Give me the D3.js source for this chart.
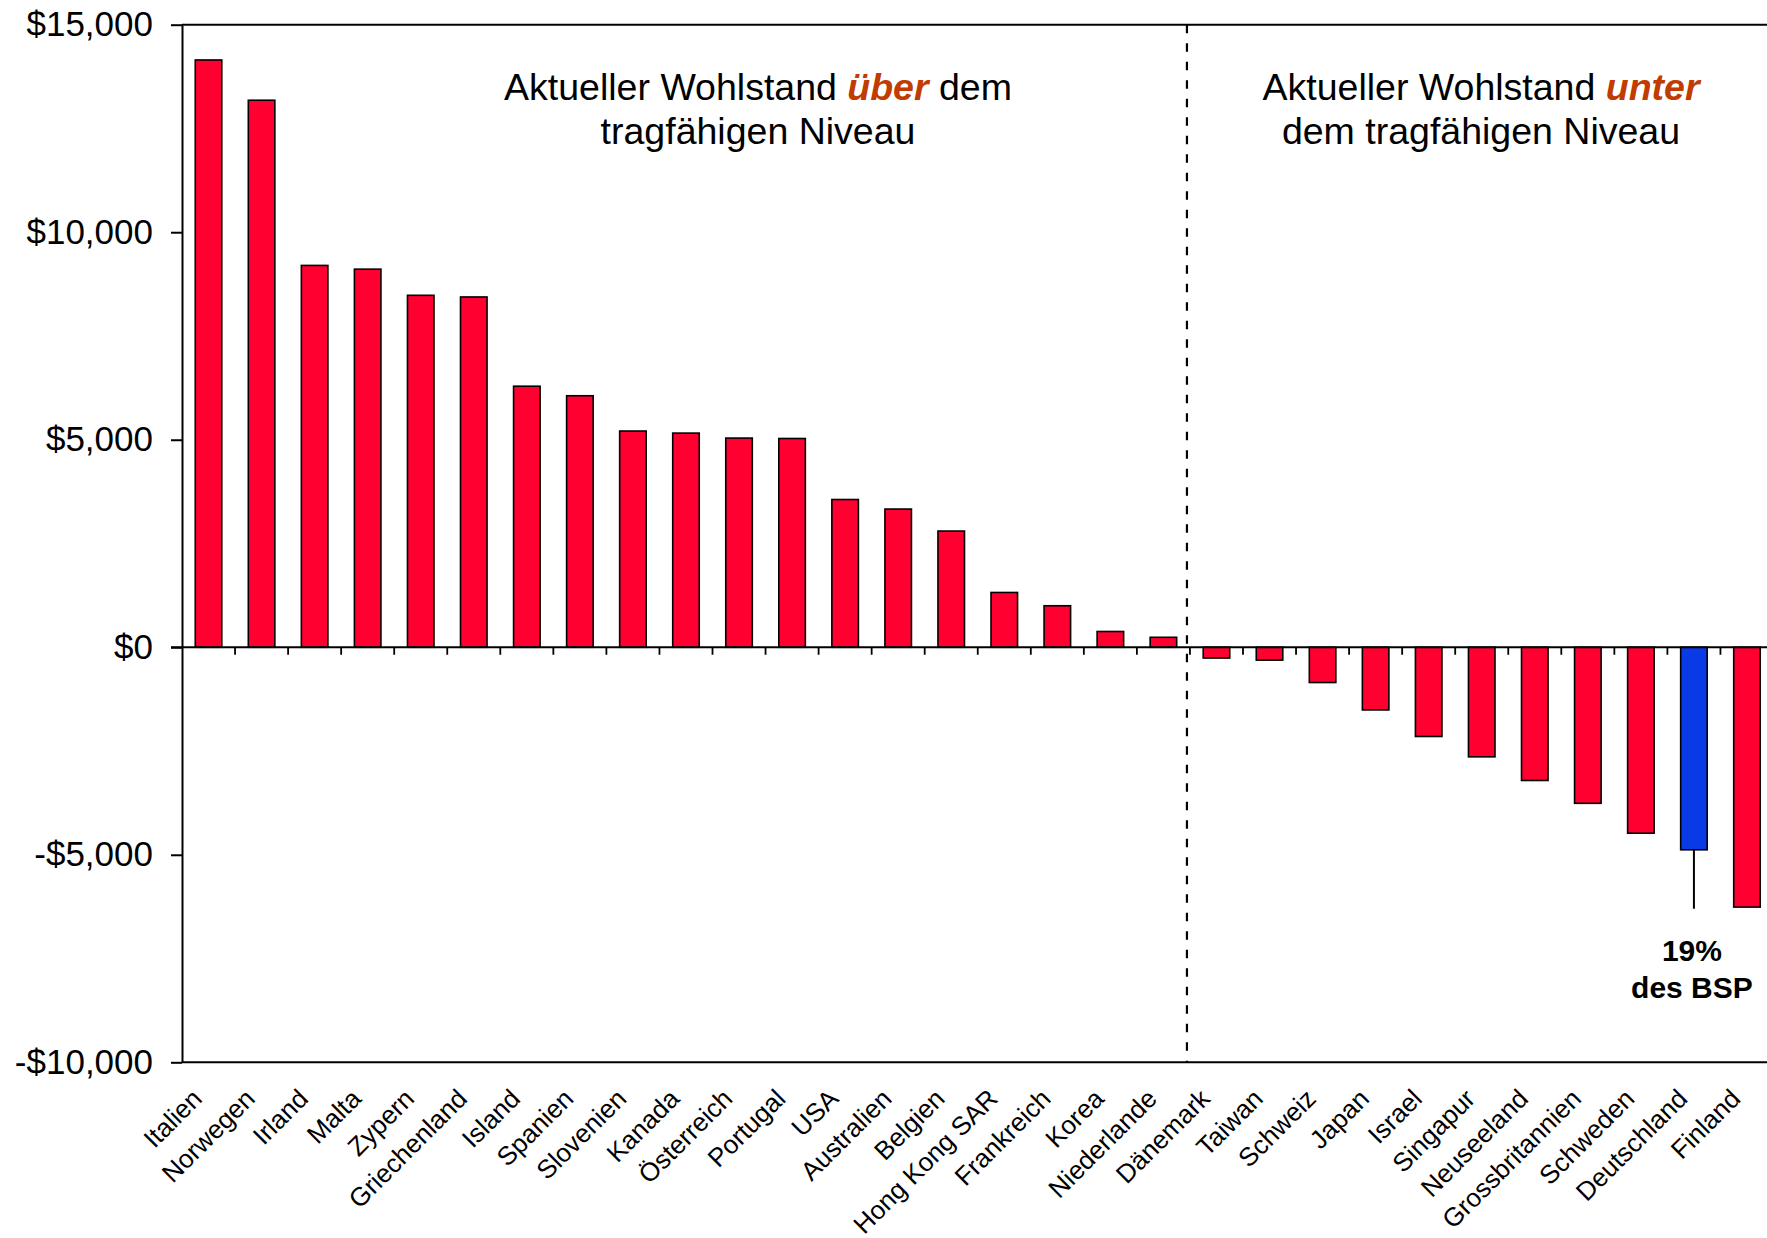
<!DOCTYPE html>
<html>
<head>
<meta charset="utf-8">
<script src="https://cdn.jsdelivr.net/npm/d3@7"></script>
<style>
  html, body { margin: 0; padding: 0; background: #fff; }
  svg { display: block; }
  text { font-family: "Liberation Sans", Arial, Helvetica, sans-serif; }
</style>
</head>
<body>
<svg id="chart" width="1767" height="1238"></svg>
<script>
// ---- data ----
const countries = ["Italien","Norwegen","Irland","Malta","Zypern","Griechenland","Island","Spanien","Slovenien","Kanada","Österreich","Portugal","USA","Australien","Belgien","Hong Kong SAR","Frankreich","Korea","Niederlande","Dänemark","Taiwan","Schweiz","Japan","Israel","Singapur","Neuseeland","Grossbritannien","Schweden","Deutschland","Finland"];
const values = [14150,13180,9200,9110,8480,8440,6290,6060,5210,5160,5040,5030,3560,3330,2800,1320,1000,380,240,-260,-310,-850,-1510,-2150,-2640,-3210,-3760,-4480,-4880,-6260];
const highlighted = ["Deutschland"];
const yTicks = [15000,10000,5000,0,-5000,-10000];
const yDomain = [-10000, 15000];
const dividerAfter = "Niederlande";
const annotationCountry = "Deutschland";
const annotationEnd = -6300;
const annotationLines = ["19%", "des BSP"];
const leftTitle = [["Aktueller Wohlstand ", false], ["über", true], [" dem", false]];
const leftTitle2 = "tragfähigen Niveau";
const rightTitle = [["Aktueller Wohlstand ", false], ["unter", true]];
const rightTitle2 = "dem tragfähigen Niveau";

// ---- layout ----
const svg = d3.select("#chart");
const plotLeft = 182, step = 53.05;
const plotRight = plotLeft + step * countries.length;
const plotTop = 24.7, plotBottom = 1062.3;

const x = d3.scaleBand().domain(countries).range([plotLeft, plotRight]).paddingInner(0.5).paddingOuter(0.25);
const y = d3.scaleLinear().domain(yDomain).range([plotBottom, plotTop]);

const RED = "#FF0030", BLUE = "#0A3AE6", ACCENT = "#C03C00";

// plot frame (top + bottom)
svg.append("line").attr("x1", plotLeft).attr("x2", plotRight + 5).attr("y1", plotTop).attr("y2", plotTop)
  .attr("stroke", "#000").attr("stroke-width", 2);
svg.append("line").attr("x1", plotLeft).attr("x2", plotRight + 5).attr("y1", plotBottom).attr("y2", plotBottom)
  .attr("stroke", "#000").attr("stroke-width", 2);

// y axis
const yAxis = d3.axisLeft(y).tickValues(yTicks).tickSizeOuter(0).tickSizeInner(11).tickPadding(18)
  .tickFormat(d => (d < 0 ? "-$" : "$") + d3.format(",")(Math.abs(d)));
const gy = svg.append("g").attr("transform", `translate(${plotLeft},0)`).call(yAxis);
gy.select(".domain").attr("stroke", "#000").attr("stroke-width", 2);
gy.selectAll(".tick line").attr("stroke", "#000").attr("stroke-width", 2);
gy.selectAll(".tick text").attr("font-size", 35).attr("fill", "#000")
  .attr("font-family", "'Liberation Sans', Arial, sans-serif");

// bars
svg.append("g").selectAll("rect").data(countries).join("rect")
  .attr("x", (d) => x(d))
  .attr("width", x.bandwidth())
  .attr("y", (d, i) => y(Math.max(0, values[i])))
  .attr("height", (d, i) => Math.abs(y(values[i]) - y(0)))
  .attr("fill", d => highlighted.includes(d) ? BLUE : RED)
  .attr("stroke", "#000").attr("stroke-width", 1.6);

// zero line with category ticks
svg.append("line").attr("x1", plotLeft - 11).attr("x2", plotRight + 5).attr("y1", y(0)).attr("y2", y(0))
  .attr("stroke", "#000").attr("stroke-width", 2);
svg.append("g").selectAll("line").data(d3.range(1, countries.length)).join("line")
  .attr("x1", k => plotLeft + k * x.step()).attr("x2", k => plotLeft + k * x.step())
  .attr("y1", y(0)).attr("y2", y(0) + 7.5)
  .attr("stroke", "#000").attr("stroke-width", 1.8);

// divider dashed line
const divX = x(dividerAfter) + x.bandwidth() + x.step() * x.paddingInner() / 2 - 3;
svg.append("line").attr("x1", divX).attr("x2", divX).attr("y1", plotTop).attr("y2", plotBottom)
  .attr("stroke", "#000").attr("stroke-width", 2.2).attr("stroke-dasharray", "8.5,10");

// x labels
svg.append("g").selectAll("text").data(countries).join("text")
  .attr("transform", d => `translate(${x(d) + x.bandwidth() / 2 - 5},${plotBottom + 38}) rotate(-45)`)
  .attr("text-anchor", "end")
  .attr("font-size", 26).attr("fill", "#000")
  .text(d => d);

// titles
function title(parts, line2, cx) {
  const t1 = svg.append("text").attr("x", cx).attr("y", 100).attr("text-anchor", "middle").attr("font-size", 37.5).attr("fill", "#000");
  parts.forEach(([s, em]) => {
    const ts = t1.append("tspan").text(s);
    if (em) ts.attr("fill", ACCENT).attr("font-weight", "bold").attr("font-style", "italic");
  });
  svg.append("text").attr("x", cx).attr("y", 144).attr("text-anchor", "middle").attr("font-size", 37.5).attr("fill", "#000").text(line2);
}
title(leftTitle, leftTitle2, 758);
title(rightTitle, rightTitle2, 1481);

// annotation
const ai = countries.indexOf(annotationCountry);
const ax = x(annotationCountry) + x.bandwidth() / 2;
svg.append("line").attr("x1", ax).attr("x2", ax).attr("y1", y(values[ai])).attr("y2", y(annotationEnd))
  .attr("stroke", "#000").attr("stroke-width", 2);
annotationLines.forEach((s, i) => {
  svg.append("text").attr("x", ax - 2).attr("y", 961 + i * 37).attr("text-anchor", "middle")
    .attr("font-size", 30).attr("font-weight", "bold").attr("fill", "#000").text(s);
});
</script>
</body>
</html>
